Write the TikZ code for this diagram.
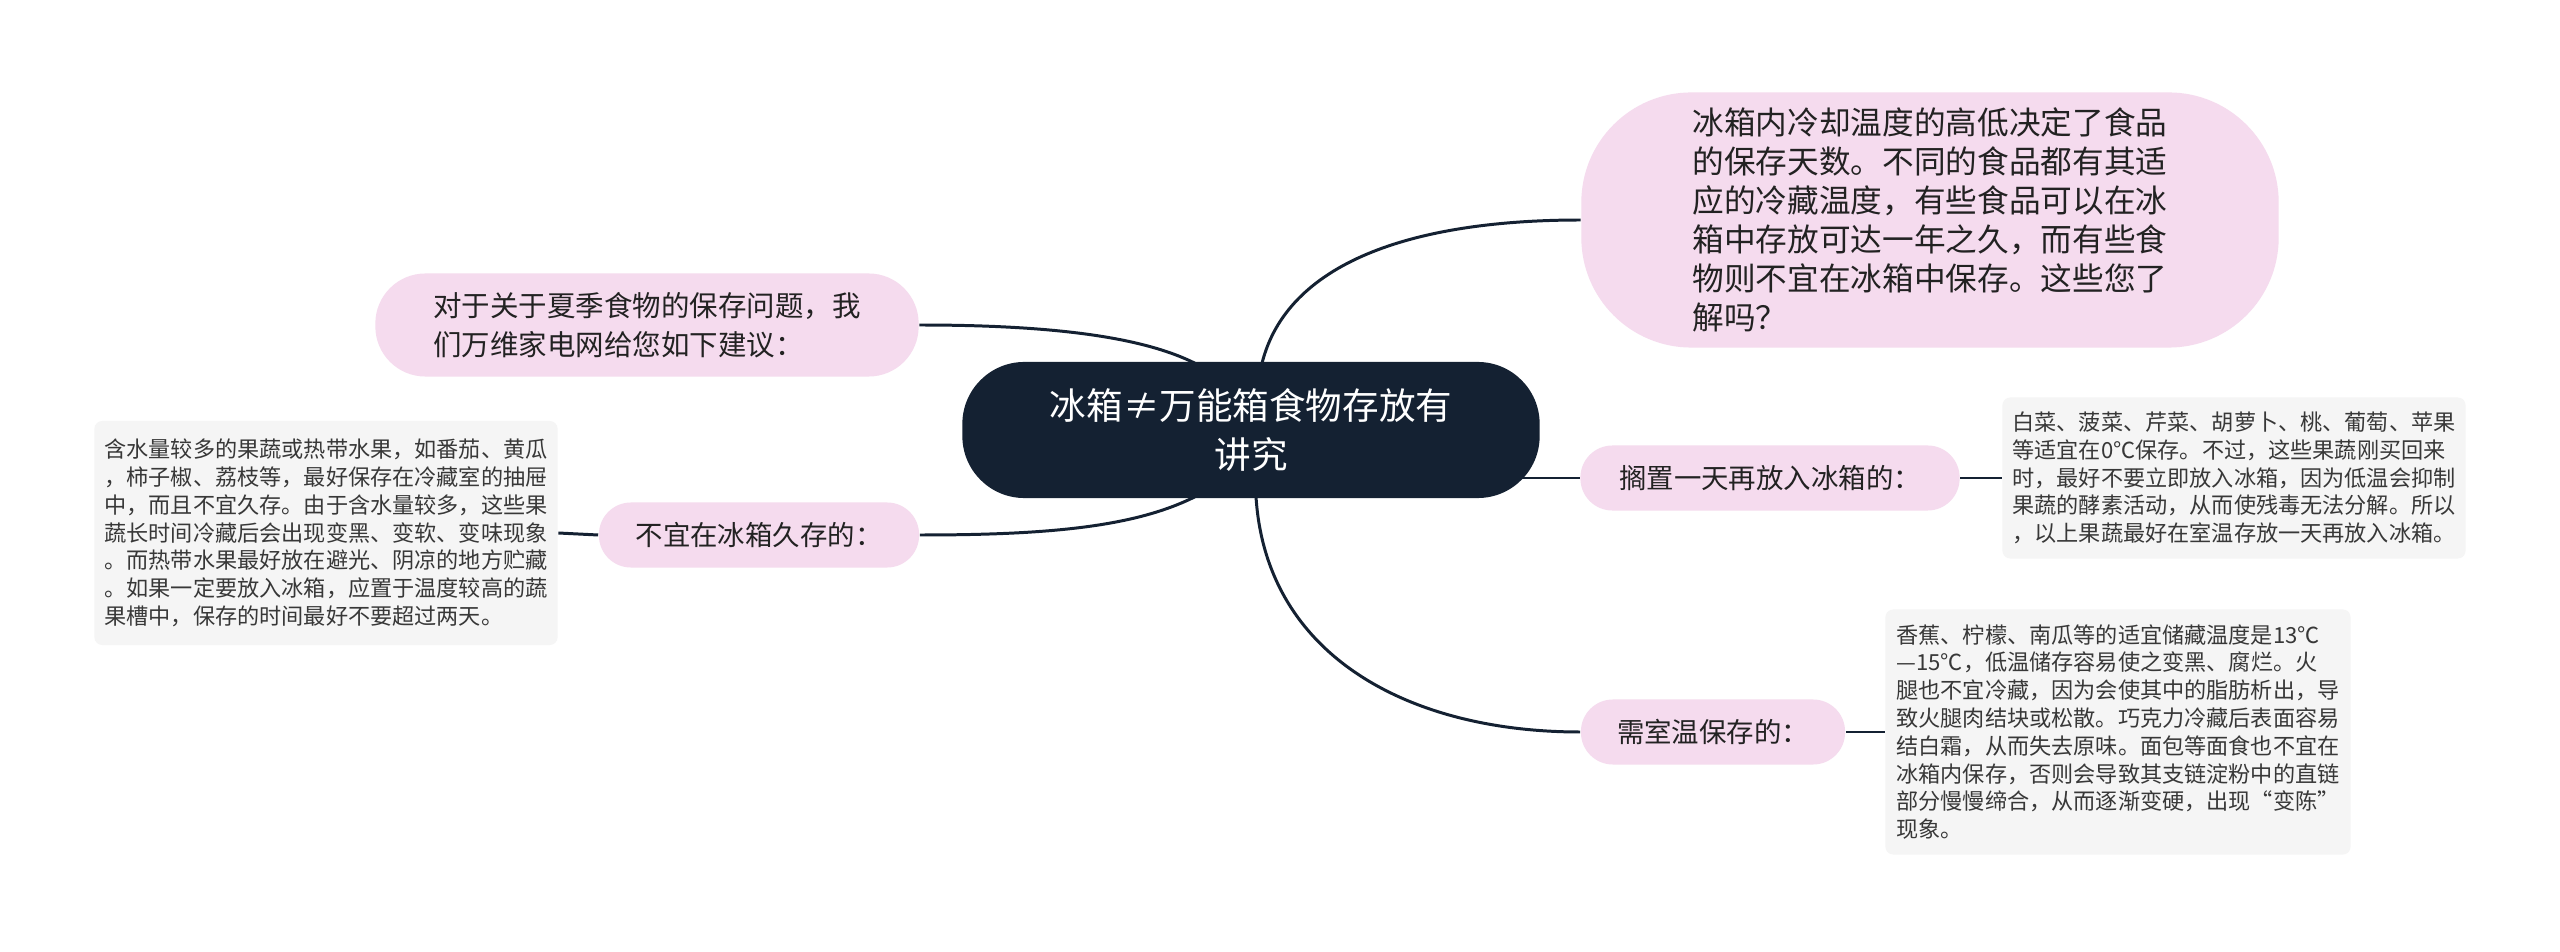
\documentclass[tikz,border=0pt]{standalone}
\usepackage{fontspec}
\setmainfont{Noto Sans CJK SC}
\usetikzlibrary{calc,backgrounds}
\definecolor{night}{RGB}{20,33,50}
\definecolor{blush}{RGB}{245,219,238}
\definecolor{mist}{RGB}{245,245,245}
\definecolor{ink}{RGB}{34,34,34}
\tikzset{
  root/.style={fill=night,text=white,rounded corners=0.62cm,inner sep=0pt,
    minimum width=5.77cm,minimum height=1.36cm,align=center,
    font=\fontsize{10.4pt}{14pt}\selectfont},
  topic/.style={fill=blush,text=ink,inner sep=0pt,align=left},
  branch/.style={topic,minimum height=0.65cm,rounded corners=0.32cm,
    font=\fontsize{7.8pt}{9.5pt}\selectfont},
  note/.style={fill=mist,text=ink!90,rounded corners=0.08cm,inner sep=0pt,
    minimum width=4.63cm,align=left,font=\fontsize{6.3pt}{7.9pt}\selectfont},
  link/.style={draw=night,line width=0.85pt},
}
\begin{document}
\begin{tikzpicture}[x=0.01cm,y=-0.01cm]
  \path[use as bounding box] (0,0) rectangle (2560,952);
  % centre and first level
  \node[root] (c) at (1251,430) {冰箱≠万能箱食物存放有\\讲究};
  \node[topic,minimum width=6.97cm,minimum height=2.55cm,rounded corners=1.1cm,
    font=\fontsize{9pt}{11.1pt}\selectfont] (intro) at (1930,220)
    {冰箱内冷却温度的高低决定了食品\\的保存天数。不同的食品都有其适\\应的冷藏温度，有些食品可以在冰\\箱中存放可达一年之久，而有些食\\物则不宜在冰箱中保存。这些您了\\解吗？};
  \node[topic,minimum width=5.43cm,minimum height=1.03cm,rounded corners=0.5cm,
    font=\fontsize{8.1pt}{11.1pt}\selectfont] (ask) at (647,325)
    {对于关于夏季食物的保存问题，我\\们万维家电网给您如下建议：};
  \node[branch,minimum width=3.2cm] (nocold) at (759,535) {不宜在冰箱久存的：};
  \node[branch,minimum width=3.79cm] (shelf) at (1770,478) {搁置一天再放入冰箱的：};
  \node[branch,minimum width=2.64cm] (warm) at (1713,732) {需室温保存的：};
  % notes
  \node[note,minimum height=2.24cm] (n1) at (326,533)
    {含水量较多的果蔬或热带水果，如番茄、黄瓜\\，柿子椒、荔枝等，最好保存在冷藏室的抽屉\\中，而且不宜久存。由于含水量较多，这些果\\蔬长时间冷藏后会出现变黑、变软、变味现象\\。而热带水果最好放在避光、阴凉的地方贮藏\\。如果一定要放入冰箱，应置于温度较高的蔬\\果槽中，保存的时间最好不要超过两天。};
  \node[note,minimum height=1.61cm] (n2) at (2234,478)
    {白菜、菠菜、芹菜、胡萝卜、桃、葡萄、苹果\\等适宜在0℃保存。不过，这些果蔬刚买回来\\时，最好不要立即放入冰箱，因为低温会抑制\\果蔬的酵素活动，从而使残毒无法分解。所以\\，以上果蔬最好在室温存放一天再放入冰箱。};
  \node[note,minimum width=4.65cm,minimum height=2.45cm] (n3) at (2118,732)
    {香蕉、柠檬、南瓜等的适宜储藏温度是13℃\\—15℃，低温储存容易使之变黑、腐烂。火\\腿也不宜冷藏，因为会使其中的脂肪析出，导\\致火腿肉结块或松散。巧克力冷藏后表面容易\\结白霜，从而失去原味。面包等面食也不宜在\\冰箱内保存，否则会导致其支链淀粉中的直链\\部分慢慢缔合，从而逐渐变硬，出现“变陈”\\现象。};
  % connectors
  \begin{scope}[on background layer]
    \fill[white] (0,0) rectangle (2560,952);
    \draw[link] (ask.east) .. controls +(140,0) and +(-50,-25) .. ($(c.north)+(-56,2)$);
    \draw[link] ($(c.north)+(11,2)$) .. controls +(25,-100) and +(-170,0) .. (intro.west);
    \draw[link] (c.center |- shelf.west) -- (shelf.west);
    \draw[link] ($(c.south)+(-56,-2)$) .. controls +(-60,30) and +(130,0) .. (nocold.east);
    \draw[link] ($(c.south)+(5,-2)$) .. controls +(10,160) and +(-170,0) .. (warm.west);
    \draw[link] (nocold.west) -- (n1.east);
    \draw[link] (shelf.east) -- (n2.west);
    \draw[link] (warm.east) -- (n3.west);
  \end{scope}
\end{tikzpicture}
\end{document}
